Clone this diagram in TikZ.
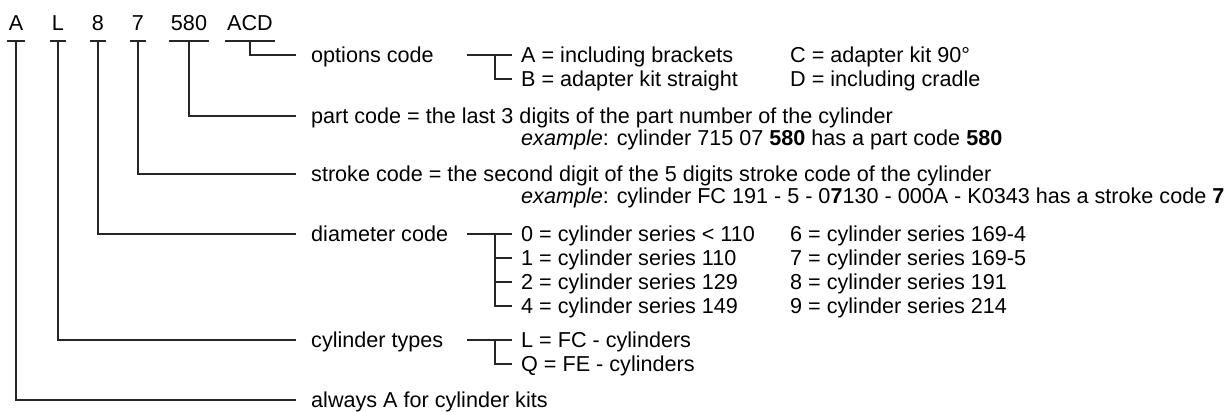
\documentclass[tikz,border=0pt]{standalone}
\usepackage{fontspec}
\setmainfont{Liberation Sans}

\begin{document}
\begin{tikzpicture}[x=1pt,y=-1pt]
	\tikzstyle{every node}=[font=\fontsize{21.6}{26}\selectfont]
	\tikzstyle{code}=[anchor=south, inner xsep=2pt, inner ysep=0pt, text height=15.5pt, text depth=10pt]
	\tikzstyle{lbl}=[anchor=west, inner sep=0pt, text height=15.5pt, text depth=0pt]
	\tikzstyle{wire}=[line width=1.5pt, black!85]
	\useasboundingbox (0,0) rectangle (1226,412);

	% the code letters
	\node[code] (cA) at (16,41) {A};
	\node[code] (cL) at (58,41) {L};
	\node[code] (c8) at (98,41) {8};
	\node[code] (c7) at (138,41) {7};
	\node[code] (c580) at (189,41) {580};
	\node[code] (cACD) at (250,41) {ACD};
	\foreach \n in {A,L,8,7,580,ACD}
		\draw[wire] (c\n.south west) -- (c\n.south east);

	% what they mean
	\node[lbl] (lOpt) at (311,55) {options code};
	\node[lbl] (lPart) at (311,116) {part code = the last 3 digits of the part number of the cylinder};
	\node[lbl] (exPart) at (521,138) {\textit{example}: cylinder 715 07 \textbf{580} has a part code \textbf{580}};
	\node[lbl] (lStroke) at (311,174) {stroke code = the second digit of the 5 digits stroke code of the cylinder};
	\node[lbl] (exStroke) at (521,196) {\textit{example}: cylinder FC 191 - 5 - 0\textbf{7}130 - 000A - K0343 has a stroke code \textbf{7}};
	\node[lbl] (lDia) at (311,234) {diameter code};
	\node[lbl] (lType) at (311,340) {cylinder types};
	\node[lbl] (lAlways) at (311,400) {always A for cylinder kits};

	\draw[wire] (cACD.south) |- ([xshift=-15pt]lOpt.west);
	\draw[wire] (c580.south) |- ([xshift=-15pt]lPart.west);
	\draw[wire] (c7.south) |- ([xshift=-15pt]lStroke.west);
	\draw[wire] (c8.south) |- ([xshift=-15pt]lDia.west);
	\draw[wire] (cL.south) |- ([xshift=-15pt]lType.west);
	\draw[wire] (cA.south) |- ([xshift=-15pt]lAlways.west);

	% options
	\node[lbl] (oA) at (521,55) {A = including brackets};
	\node[lbl] (oB) at (521,79) {B = adapter kit straight};
	\node[lbl] (oC) at (790,55) {C = adapter kit 90°};
	\node[lbl] (oD) at (790,79) {D = including cradle};
	\draw[wire] ([xshift=-54pt]oA.west) -- ([xshift=-9pt]oA.west);
	\draw[wire] ([xshift=-26pt]oA.west) |- ([xshift=-9pt]oB.west);

	% diameters
	\node[lbl] (d0) at (521,234) {0 = cylinder series < 110};
	\node[lbl] (d1) at (521,258) {1 = cylinder series 110};
	\node[lbl] (d2) at (521,282) {2 = cylinder series 129};
	\node[lbl] (d4) at (521,306) {4 = cylinder series 149};
	\node[lbl] (d6) at (790,234) {6 = cylinder series 169-4};
	\node[lbl] (d7) at (790,258) {7 = cylinder series 169-5};
	\node[lbl] (d8) at (790,282) {8 = cylinder series 191};
	\node[lbl] (d9) at (790,306) {9 = cylinder series 214};
	\draw[wire] ([xshift=-54pt]d0.west) -- ([xshift=-9pt]d0.west);
	\draw[wire] ([xshift=-26pt]d0.west) |- ([xshift=-9pt]d4.west);
	\draw[wire] ([xshift=-26pt]d1.west) -- ([xshift=-9pt]d1.west);
	\draw[wire] ([xshift=-26pt]d2.west) -- ([xshift=-9pt]d2.west);

	% types
	\node[lbl] (tL) at (521,340) {L = FC - cylinders};
	\node[lbl] (tQ) at (521,364) {Q = FE - cylinders};
	\draw[wire] ([xshift=-54pt]tL.west) -- ([xshift=-9pt]tL.west);
	\draw[wire] ([xshift=-26pt]tL.west) |- ([xshift=-9pt]tQ.west);
\end{tikzpicture}
\end{document}
